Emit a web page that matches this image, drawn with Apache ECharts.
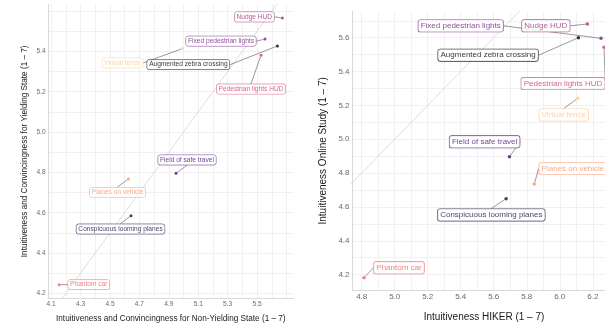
<!DOCTYPE html>
<html>
<head>
<meta charset="utf-8">
<script src="https://cdn.jsdelivr.net/npm/echarts@6/dist/echarts.min.js"></script>
<style>
html,body{margin:0;padding:0;overflow:hidden;background:#fff;}
#c{width:625px;height:328px;}
</style>
</head>
<body>
<div id="c"></div>
<script>
// ---- data ----
const names = ['Augmented zebra crossing','Conspicuous looming planes','Field of safe travel','Fixed pedestrian lights','Nudge HUD','Pedestrian lights HUD','Phantom car','Planes on vehicle','Virtual fence'];
const colors = ['#000004','#180F3E','#451077','#721F81','#9F2F7F','#CD4071','#F1605D','#FD9567','#FEC98D'];
const nonYielding = [5.638, 4.643, 4.949, 5.554, 5.672, 5.527, 4.155, 4.625, 4.992];
const yielding    = [5.427, 4.585, 4.796, 5.461, 5.566, 5.381, 4.243, 4.767, 5.414];
const hiker       = [6.113, 5.675, 5.695, 6.250, 6.167, 6.268, 4.814, 5.846, 6.109];
const online      = [5.600, 4.649, 4.897, 5.596, 5.681, 5.543, 4.182, 4.736, 5.242];
const leftXLabels  = [4.1, 4.3, 4.5, 4.7, 4.9, 5.1, 5.3, 5.5];
const leftYLabels  = [4.2, 4.4, 4.6, 4.8, 5.0, 5.2, 5.4];
const rightXLabels = [4.8, 5.0, 5.2, 5.4, 5.6, 5.8, 6.0, 6.2];
const rightYLabels = [4.2, 4.4, 4.6, 4.8, 5.0, 5.2, 5.4, 5.6];

// ---- layout (label offsets in px, not data) ----
const leftOffsets  = [[-89,18.7],[-10.5,13.3],[11,-13.2],[-44,2],[-28,-1],[-10,33.8],[29.5,0],[-10.8,13.3],[-59.8,14.3]];
const rightOffsets = [[-90.3,17.5],[-14.8,16.3],[-24.8,-14.9],[-140.3,-12.5],[-41.5,1.8],[-41,36.2],[35,-9.9],[38.6,-15.3],[-14,16.7]];

function ext(arr){
  const mn = Math.min(...arr), mx = Math.max(...arr), d = (mx-mn)*0.05;
  return [mn-d, mx+d];
}
function grid01(lo, hi){
  const out = [];
  for (let k = Math.ceil(lo*10-1e-9); k <= Math.floor(hi*10+1e-9); k++) out.push(Math.round(k)/10);
  return out;
}
const FONT = "'Liberation Sans', Arial, sans-serif";
const SEG = '#555555';
const lx = ext(nonYielding), ly = ext(yielding), rx = ext(hiker), ry = ext(online);

function axis(idx, type, range, labels, fs, name, nameGap, nameFs){
  const o = {
    type: 'value', gridIndex: idx, min: range[0], max: range[1],
    name: name, nameLocation: 'middle', nameGap: nameGap,
    nameTextStyle: {fontFamily: FONT, fontSize: nameFs, color: '#1a1a1a'},
    axisLine: {show: true, lineStyle: {color: '#cfcfcf', width: 0.8}},
    axisTick: {show: false, customValues: grid01(range[0], range[1])},
    axisLabel: {customValues: labels, fontFamily: FONT, fontSize: fs, color: '#6a6a6a', margin: 2.5,
      formatter: v => v.toFixed(1)},
    splitLine: {show: true, lineStyle: {color: '#ebebeb', width: 0.7}}
  };
  if (type === 'y') { o.nameRotate = 90; }
  return o;
}

function scatter(idx, xs, ys, offsets, fs, ss, bw){
  return {
    type: 'scatter', xAxisIndex: idx, yAxisIndex: idx, symbolSize: ss, z: 3,
    data: xs.map((x,i) => ({
      value: [x, ys[i]], name: names[i],
      itemStyle: {color: colors[i]},
      label: {color: colors[i], borderColor: colors[i]},
      labelLine: {show: true, lineStyle: {color: SEG, width: 0.6}}
    })),
    label: {
      show: true, position: 'inside', formatter: p => p.name,
      fontFamily: FONT, fontSize: fs, lineHeight: fs*1.15,
      backgroundColor: '#ffffff', borderWidth: bw, borderRadius: 2,
      padding: [fs*0.16, fs*0.3]
    },
    labelLine: {show: true, lineStyle: {color: SEG, width: 0.6}},
    labelLayout: p => ({dx: offsets[p.dataIndex][0], dy: offsets[p.dataIndex][1]})
  };
}
function diag(idx, xr, yr){
  const lo = Math.min(xr[0], yr[0]), hi = Math.max(xr[1], yr[1]);
  return {type: 'line', xAxisIndex: idx, yAxisIndex: idx, data: [[lo,lo],[hi,hi]], symbol: 'none',
    silent: true, z: 1, lineStyle: {color: '#d4d4d4', width: 0.8}, clip: true};
}

const chart = echarts.init(document.getElementById('c'), null, {renderer: 'canvas'});
chart.setOption({
  animation: false,
  backgroundColor: '#ffffff',
  grid: [
    {left: 48.1, top: 4.6, width: 245.4, height: 296.1},
    {left: 352, top: 11.3, width: 264, height: 279.1}
  ],
  xAxis: [
    axis(0, 'x', lx, leftXLabels, 6.6, 'Intuitiveness and Convincingness for Non-Yielding State (1 \u2013 7)', 17, 8.2),
    axis(1, 'x', rx, rightXLabels, 8, 'Intuitiveness HIKER (1 \u2013 7)', 22, 10)
  ],
  yAxis: [
    axis(0, 'y', ly, leftYLabels, 6.6, 'Intuitiveness and Convincingness for Yielding State (1 \u2013 7)', 19, 8.2),
    axis(1, 'y', ry, rightYLabels, 8, 'Intuitiveness Online Study (1 \u2013 7)', 24, 10)
  ],
  series: [
    diag(0, lx, ly), diag(1, rx, ry),
    scatter(0, nonYielding, yielding, leftOffsets, 6.6, 3, 0.5),
    scatter(1, hiker, online, rightOffsets, 8, 3.5, 0.6)
  ]
});
chart.on('finished', function(){});
</script>
</body>
</html>
